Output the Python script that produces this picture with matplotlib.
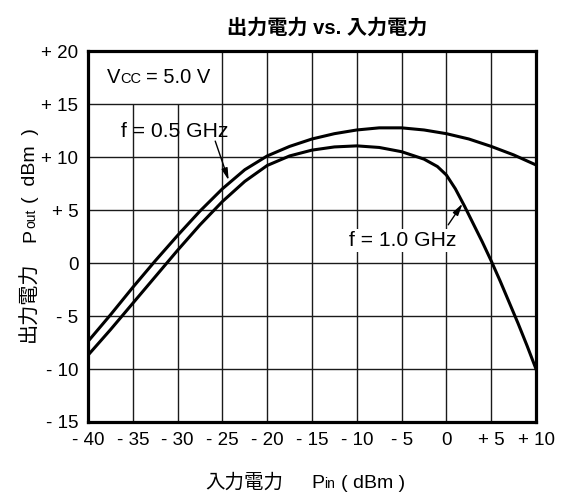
import matplotlib
matplotlib.use("Agg")
import matplotlib.pyplot as plt
from matplotlib.transforms import offset_copy

FAM = ["Liberation Sans", "Noto Sans CJK TC"]
plt.rcParams["font.family"] = FAM

# Output power vs. input power, Vcc = 5.0 V
pin_05 = [-40, -37.5, -35, -32.5, -30, -27.5, -25, -22.5, -20, -17.5, -15,
          -12.5, -10, -7.5, -5, -2.5, 0, 2.5, 5, 7.5, 10]
pout_05 = [-7.4, -4.9, -2.3, 0.2, 2.6, 4.9, 7.0, 8.8, 10.1, 11.0, 11.7,
           12.2, 12.55, 12.75, 12.75, 12.55, 12.2, 11.7, 11.0, 10.2, 9.25]

pin_10 = [-40, -37.5, -35, -32.5, -30, -27.5, -25, -22.5, -20, -17.5, -15,
          -12.5, -10, -7.5, -5, -2.5, -1, 0, 1, 2, 3, 4, 5, 6, 7, 8, 9, 10]
pout_10 = [-8.7, -6.3, -3.8, -1.3, 1.2, 3.6, 5.8, 7.7, 9.2, 10.1, 10.65,
           10.95, 11.05, 10.9, 10.5, 9.8, 9.1, 8.3, 7.0, 5.4, 3.7, 2.0, 0.2,
           -1.7, -3.7, -5.7, -7.8, -10.0]

x_ticks = [-40, -35, -30, -25, -20, -15, -10, -5, 0, 5, 10]
x_labels = ["- 40", "- 35", "- 30", "- 25", "- 20", "- 15", "- 10", "- 5",
            "0", "+ 5", "+ 10"]
y_ticks = [-15, -10, -5, 0, 5, 10, 15, 20]
y_labels = ["- 15", "- 10", "- 5", "0", "+ 5", "+ 10", "+ 15", "+ 20"]

W, H = 570, 496
fig = plt.figure(figsize=(W / 100, H / 100), dpi=100)
ax = fig.add_axes([88 / W, 1 - 422 / H, (536 - 88) / W, (422 - 51) / H])
ax.set_xlim(-40, 10)
ax.set_ylim(-15, 20)

# grid drawn by hand so the Vcc label area stays clear
grid_kw = dict(color="#1a1a1a", lw=1.0, zorder=1)
for xv in x_ticks[1:-1]:
    top = 15 if xv in (-35, -30) else 20
    ax.vlines(xv, -15, top, **grid_kw)
for yv in y_ticks[1:-1]:
    ax.hlines(yv, -40, 10, **grid_kw)

ax.plot(pin_05, pout_05, color="black", lw=2.2, zorder=3,
        solid_joinstyle="round")
ax.plot(pin_10, pout_10, color="black", lw=2.2, zorder=3,
        solid_joinstyle="round")

for s in ax.spines.values():
    s.set_linewidth(2.3)
    s.set_zorder(5)

ax.set_xticks(x_ticks)
ax.set_xticklabels(x_labels)
ax.set_yticks(y_ticks)
ax.set_yticklabels(y_labels)
ax.tick_params(length=0, labelsize=13.5, pad=7)

fig.text(327 / W, 1 - 28 / H, "出力電力 vs. 入力電力", ha="center",
         va="center", fontsize=14.5, fontweight="bold")

# curve annotations
ax.text(-30.3, 12.4, "f = 0.5 GHz", ha="center", va="center",
        fontsize=15.2, zorder=4)
ax.annotate("", xy=(-24.3, 7.8), xytext=(-25.8, 11.5),
            arrowprops=dict(arrowstyle="-|>,head_width=0.18,head_length=0.7",
                            lw=1.0, color="black", shrinkA=0, shrinkB=0),
            zorder=4)
ax.text(-4.9, 2.1, "f = 1.0 GHz", ha="center", va="center", fontsize=15.2,
        zorder=4, bbox=dict(fc="white", ec="none", pad=1.5))
ax.annotate("", xy=(1.8, 5.6), xytext=(0.2, 3.6),
            arrowprops=dict(arrowstyle="-|>,head_width=0.18,head_length=0.7",
                            lw=1.0, color="black", shrinkA=0, shrinkB=0),
            zorder=4)


def rich_text(x, y, parts, transform, rotation=0):
    """Lay out (text, size, gap_px) pieces one after another on a baseline."""
    items = []
    for s, size, gap in parts:
        t = fig.text(x, y, s, transform=transform, fontsize=size, ha="left",
                     va="baseline", rotation=rotation,
                     rotation_mode="anchor", zorder=6)
        items.append((t, gap))
    fig.canvas.draw()
    r = fig.canvas.get_renderer()
    pos = 0.0
    for t, gap in items:
        pos += gap
        if rotation == 90:
            t.set_transform(offset_copy(transform, fig=fig, x=0, y=pos,
                                        units="dots"))
            pos += t.get_window_extent(r).height
        else:
            t.set_transform(offset_copy(transform, fig=fig, x=pos, y=0,
                                        units="dots"))
            pos += t.get_window_extent(r).width


rich_text(-37.9, 17.0, [("V", 14.5, 0), ("CC", 10.5, 0), ("= 5.0 V", 14.5, 5)],
          ax.transData)
rich_text(205 / W, 1 - 488 / H,
          [("入力電力", 14, 0), ("P", 14, 28), ("in", 10, 0),
           ("( dBm )", 14, 6)], fig.transFigure)
rich_text(35 / W, 1 - 342 / H,
          [("出力電力", 14.5, 0), ("P", 14, 20), ("out", 10, 0),
           ("(  dBm  )", 14, 6)], fig.transFigure, rotation=90)

fig.savefig("out.png", dpi=100)
